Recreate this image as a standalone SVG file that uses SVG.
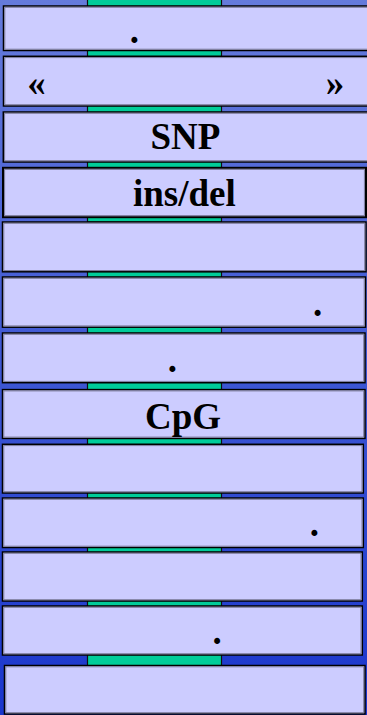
<svg xmlns="http://www.w3.org/2000/svg" width="367" height="715" viewBox="0 0 367 715">
<defs>
<linearGradient id="bg" x1="0" y1="0" x2="0" y2="1">
<stop offset="0" stop-color="#657bdb"/>
<stop offset="1" stop-color="#1a36cc"/>
</linearGradient>
</defs>
<style>
.box{fill:#ccccff;stroke:#000;stroke-width:1.5}
.inner{fill:none;stroke:#7a7a99;stroke-width:1}
.conn{fill:#00cc99;stroke:#111;stroke-width:1.2}
.t{font-family:"Liberation Serif","Times New Roman",serif;font-weight:bold;font-size:37px;fill:#000;text-anchor:middle}
</style>
<rect x="0" y="0" width="367" height="715" fill="url(#bg)"/>
<g id="connectors">
<rect class="conn" x="87.5" y="-2" width="134" height="8.5"/>
<rect class="conn" x="87.5" y="50" width="134" height="6.5"/>
<rect class="conn" x="87.5" y="105.5" width="134" height="7"/>
<rect class="conn" x="87.5" y="161.5" width="134" height="7"/>
<rect class="conn" x="87.5" y="216.5" width="134" height="5.5"/>
<rect class="conn" x="87.5" y="271.5" width="134" height="6"/>
<rect class="conn" x="87.5" y="326.5" width="134" height="7"/>
<rect class="conn" x="87.5" y="382.5" width="134" height="7.5"/>
<rect class="conn" x="87.5" y="438.5" width="134" height="6"/>
<rect class="conn" x="87.5" y="492.5" width="134" height="6"/>
<rect class="conn" x="87.5" y="546.5" width="134" height="6"/>
<rect class="conn" x="87.5" y="600.5" width="134" height="6"/>
<rect class="conn" x="87.5" y="654.5" width="134" height="11.5"/>
</g>
<g id="box1"><rect class="box" x="3.5" y="6" width="370" height="44.5"/><rect class="inner" x="4.8" y="7.3" width="370" height="41.9"/><text class="t" x="134.3" y="42.5">.</text></g>
<g id="box2"><rect class="box" x="3.5" y="56.3" width="370" height="49.7"/><rect class="inner" x="4.8" y="57.6" width="370" height="47.1"/><text class="t" x="36.5" y="95">«</text><text class="t" x="335" y="95">»</text></g>
<g id="box3"><rect class="box" x="3.3" y="112" width="370" height="50"/><rect class="inner" x="4.6" y="113.3" width="370" height="47.4"/><text class="t" x="185.5" y="149.3">SNP</text></g>
<g id="box4"><rect class="box" x="3" y="167.8" width="363" height="49.4" style="stroke-width:2"/><rect class="inner" x="4.6" y="169.4" width="359.8" height="46.2"/><text class="t" x="184.4" y="206">ins/del</text></g>
<g id="box5"><rect class="box" x="2.5" y="222" width="363.5" height="49.8"/><rect class="inner" x="3.8" y="223.3" width="360.9" height="47.2"/></g>
<g id="box6"><rect class="box" x="2.5" y="277" width="363" height="50.2"/><rect class="inner" x="3.8" y="278.3" width="360.4" height="47.6"/><text class="t" x="317.5" y="316.3">.</text></g>
<g id="box7"><rect class="box" x="2.5" y="333" width="362.5" height="49.7"/><rect class="inner" x="3.8" y="334.3" width="359.9" height="47.1"/><text class="t" x="172.3" y="372.3">.</text></g>
<g id="box8"><rect class="box" x="2.5" y="389.6" width="362.5" height="48.8"/><rect class="inner" x="3.8" y="390.9" width="359.9" height="46.2"/><text class="t" x="183" y="428.5">CpG</text></g>
<g id="box9"><rect class="box" x="2.5" y="444.3" width="360.8" height="48.7"/><rect class="inner" x="3.8" y="445.6" width="358.2" height="46.1"/></g>
<g id="box10"><rect class="box" x="2.5" y="498" width="360.8" height="49.5"/><rect class="inner" x="3.8" y="499.3" width="358.2" height="46.9"/><text class="t" x="314.3" y="536.3">.</text></g>
<g id="box11"><rect class="box" x="2.5" y="552" width="359.8" height="49"/><rect class="inner" x="3.8" y="553.3" width="357.2" height="46.4"/></g>
<g id="box12"><rect class="box" x="2.5" y="606" width="359.8" height="49"/><rect class="inner" x="3.8" y="607.3" width="357.2" height="46.4"/><text class="t" x="217" y="644.3">.</text></g>
<g id="box13"><rect class="box" x="4.5" y="665.5" width="360.5" height="48.5"/><rect class="inner" x="5.8" y="666.8" width="357.9" height="45.9"/></g>
</svg>
